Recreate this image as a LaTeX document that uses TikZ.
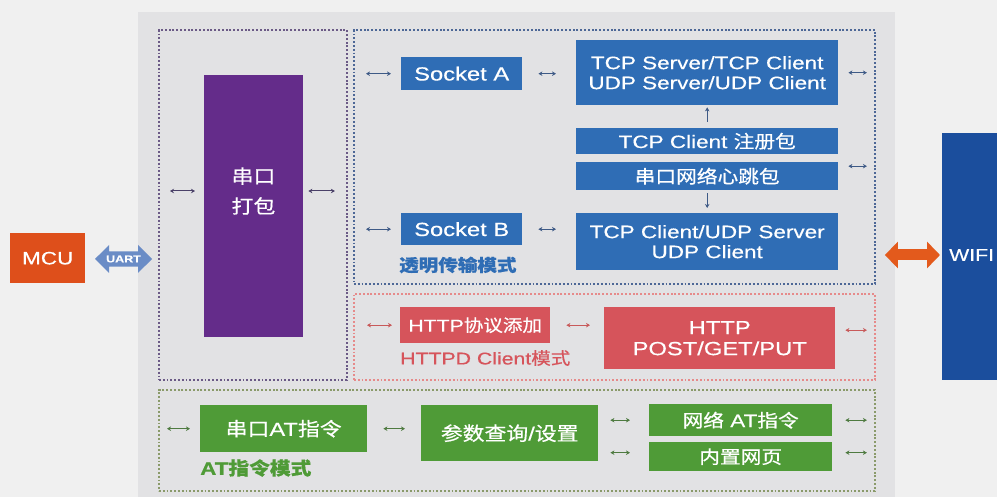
\documentclass[tikz,border=0pt]{standalone}
\usepackage{fontspec}
\setmainfont{Liberation Sans}[FakeStretch=1.25, FakeBold=0.4]
\newfontfamily\cjk{Noto Sans CJK SC}[FakeStretch=1.15, FakeBold=0.6]
\newcommand{\zh}[1]{{\cjk #1}}
\usetikzlibrary{arrows.meta,shapes.arrows,calc}
\definecolor{pagebg}{HTML}{F0F0F0}
\definecolor{panelbg}{HTML}{E2E2E4}
\definecolor{tcpblue}{HTML}{2F6DB5}
\definecolor{purp}{HTML}{642C8A}
\definecolor{redbox}{HTML}{D6545B}
\definecolor{greenbox}{HTML}{4F9B37}
\definecolor{mcuorange}{HTML}{DE4F1B}
\definecolor{wifiblue}{HTML}{1B4E9D}
\definecolor{orangearrow}{HTML}{E35A1C}
\definecolor{uartblue}{HTML}{6A8CC6}
\definecolor{pframec}{HTML}{6B5A86}
\definecolor{bframec}{HTML}{4D6796}
\definecolor{rframec}{HTML}{E68A8A}
\definecolor{gframec}{HTML}{8A9A6A}
\definecolor{parrowc}{HTML}{4A4068}
\definecolor{barrowc}{HTML}{3E5A86}
\definecolor{rarrowc}{HTML}{C85A5A}
\definecolor{garrowc}{HTML}{4E7A40}
\tikzset{
  box/.style={draw=none, text=white, align=center, inner sep=0pt, anchor=north west},
  frm/.style={draw, line width=1.9pt, dash pattern=on 1.9pt off 1.9pt, anchor=north west, inner sep=0pt},
  arr/.style={line width=1pt, {Stealth[length=4pt,width=4.5pt]}-{Stealth[length=4pt,width=4.5pt]}},
  sarr/.style={line width=1pt, -{Stealth[length=4pt,width=4.5pt]}},
  f18/.style={font=\fontsize{18}{20}\selectfont},
  f19/.style={font=\fontsize{19}{21}\selectfont},
  f17/.style={font=\fontsize{17}{20}\selectfont},
}
\begin{document}
\begin{tikzpicture}[x=1pt,y=-1pt]
\clip (0,0) rectangle (997,497);
\fill[pagebg] (0,0) rectangle (997,497);
\fill[panelbg] (138,12) rectangle (895,510);

% frames
\node[frm, draw=pframec, minimum width=188pt, minimum height=350pt] (pframe) at (158,29) {};
\node[frm, draw=bframec, minimum width=521pt, minimum height=254pt] (bframe) at (353,29) {};
\node[frm, draw=rframec, minimum width=521pt, minimum height=86pt] (rframe) at (353,293) {};
\node[frm, draw=gframec, minimum width=716pt, minimum height=101pt] (gframe) at (158,389) {};

% purple
\node[box, fill=purp, minimum width=99pt, minimum height=262pt] (pack) at (204,75) {};
\node[text=white, align=center, font=\fontsize{19}{30}\selectfont] (packtxt) at (253.5,191) {\zh{串口}\\\zh{打包}};

% blue section
\node[box, fill=tcpblue, minimum width=121pt, minimum height=33pt, f19] (sockA) at (401,57) {Socket A};
\node[box, fill=tcpblue, minimum width=121pt, minimum height=32pt, f19] (sockB) at (401,213) {Socket B};
\node[box, fill=tcpblue, minimum width=262pt, minimum height=65pt, f18] (tcp1) at (576,40) {TCP Server/TCP Client\\UDP Server/UDP Client};
\node[box, fill=tcpblue, minimum width=262pt, minimum height=26pt, f18] (reg) at (576,128) {TCP Client \zh{注册包}};
\node[box, fill=tcpblue, minimum width=262pt, minimum height=28pt, f18] (hb) at (576,162) {\zh{串口网络心跳包}};
\node[box, fill=tcpblue, minimum width=262pt, minimum height=57pt, f18] (tcp2) at (576,213) {TCP Client/UDP Server\\UDP Client};
\node[anchor=west, inner sep=0pt, text=tcpblue, font=\fontsize{17}{20}\selectfont\bfseries] (transp) at (399,265) {\zh{透明传输模式}};

% red section
\node[box, fill=redbox, minimum width=150pt, minimum height=36pt, f17] (http1) at (400,307) {HTTP\zh{协议添加}};
\node[anchor=west, inner sep=0pt, text=redbox, f17] (httplab) at (400,358) {HTTPD Client\zh{模式}};
\node[box, fill=redbox, minimum width=231pt, minimum height=62pt, f19] (http2) at (604,307) {HTTP\\POST/GET/PUT};

% green section
\node[box, fill=greenbox, minimum width=167pt, minimum height=47pt, f19] (at1) at (200,405) {\zh{串口}AT\zh{指令}};
\node[anchor=west, inner sep=0pt, text=greenbox, font=\fontsize{18}{20}\selectfont\bfseries] (atlab) at (200,468) {AT\zh{指令模式}};
\node[box, fill=greenbox, minimum width=177pt, minimum height=56pt, f19] (param) at (421,405) {\zh{参数查询}/\zh{设置}};
\node[box, fill=greenbox, minimum width=183pt, minimum height=32pt, f18] (netat) at (649,404) {\zh{网络} AT\zh{指令}};
\node[box, fill=greenbox, minimum width=183pt, minimum height=29pt, f18] (web) at (649,442) {\zh{内置网页}};

% MCU, UART, WIFI
\node[box, fill=mcuorange, minimum width=75pt, minimum height=50pt, font=\fontsize{18}{20}\selectfont] (mcu) at (10,233) {MCU};
\node[double arrow, fill=uartblue, minimum height=57pt, minimum width=28pt, double arrow head extend=6pt, inner xsep=1pt, inner ysep=3.5pt, text=white, font=\fontsize{10}{10}\selectfont\bfseries] (uart) at (123.5,259) {UART};
\node[box, fill=wifiblue, minimum width=80pt, minimum height=247pt] (wifi) at (942,133) {};
\node[anchor=west, inner sep=0pt, text=white, font=\fontsize{17}{20}\selectfont] (wifitxt) at (949,255) {WIFI};
\draw[orangearrow, line width=11pt, {Triangle[length=13pt,width=26pt]}-{Triangle[length=13pt,width=26pt]}, shorten <=9pt, shorten >=2pt] (bframe.east |- wifitxt) -- (wifi.west |- wifitxt);

% purple arrows
\draw[arr, parrowc, shorten <=12pt, shorten >=9pt] (pframe.west |- packtxt) -- (pack.west |- packtxt);
\draw[arr, parrowc, shorten <=5pt, shorten >=13pt] (pack.east |- packtxt) -- (pframe.east |- packtxt);

% blue arrows
\draw[arr, barrowc, shorten <=13pt, shorten >=10pt] (bframe.west |- sockA) -- (sockA.west);
\draw[arr, barrowc, shorten <=16pt, shorten >=20pt] (sockA.east) -- (sockA.east -| tcp1.west);
\draw[arr, barrowc, shorten <=10pt, shorten >=9pt] (tcp1.east) -- (tcp1.east -| bframe.east);
\draw[arr, barrowc, shorten <=13pt, shorten >=10pt] (bframe.west |- sockB) -- (sockB.west);
\draw[arr, barrowc, shorten <=16pt, shorten >=20pt] (sockB.east) -- (sockB.east -| tcp2.west);
\draw[arr, barrowc, shorten <=10pt, shorten >=9pt] ([yshift=10pt]hb.east) -- ([yshift=10pt]hb.east -| bframe.east);
\draw[sarr, barrowc, shorten <=6pt, shorten >=2pt] (reg.north) -- (tcp1.south);
\draw[sarr, barrowc, shorten <=3pt, shorten >=5pt] (hb.south) -- (tcp2.north);

% red arrows
\draw[arr, rarrowc, shorten <=14pt, shorten >=8pt] (rframe.west |- http1) -- (http1.west);
\draw[arr, rarrowc, shorten <=16pt, shorten >=14pt] (http1.east) -- (http1.east -| http2.west);
\draw[arr, rarrowc, shorten <=10pt, shorten >=9pt] ([yshift=8pt]http2.east) -- ([yshift=8pt]http2.east -| rframe.east);

% green arrows
\draw[arr, garrowc, shorten <=9pt, shorten >=10pt] (gframe.west |- at1) -- (at1.west);
\draw[arr, garrowc, shorten <=16pt, shorten >=16pt] (at1.east) -- (at1.east -| param.west);
\draw[arr, garrowc, shorten <=12pt, shorten >=19pt] (param.east |- netat) -- (netat.west);
\draw[arr, garrowc, shorten <=12pt, shorten >=19pt] ([yshift=4pt]param.east |- web) -- ([yshift=4pt]web.west);
\draw[arr, garrowc, shorten <=13pt, shorten >=9pt] (netat.east) -- (netat.east -| gframe.east);
\draw[arr, garrowc, shorten <=13pt, shorten >=9pt] ([yshift=4pt]web.east) -- ([yshift=4pt]web.east -| gframe.east);
\end{tikzpicture}
\end{document}
